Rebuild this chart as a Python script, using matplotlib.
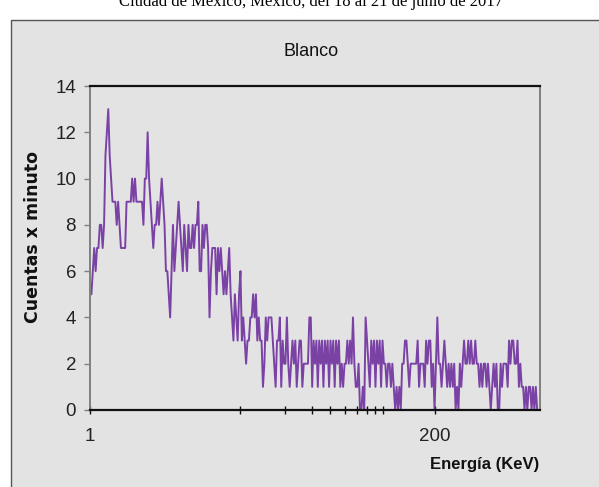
import matplotlib
matplotlib.use("Agg")
import matplotlib.pyplot as plt
from matplotlib.colors import LinearSegmentedColormap
from matplotlib.patches import Rectangle
import matplotlib.ticker as ticker
import numpy as np

# counts per minute, one value per channel (left -> right)
counts = [
    5, 5, 6, 7, 6, 7, 7, 8, 8, 7, 8, 11, 12, 13, 11, 10, 9, 9, 9, 8,
    9, 8, 7, 7, 7, 7, 9, 9, 9, 9, 10, 9, 10, 9, 9, 9, 9, 9, 8, 10,
    10, 12, 10, 9, 8, 7, 8, 8, 9, 8, 9, 10, 9, 8, 6, 6, 5, 4, 6, 8,
    6, 7, 8, 9, 8, 7, 6, 8, 7, 6, 8, 7, 7, 8, 7, 8, 8, 9, 6, 6,
    8, 7, 8, 8, 7, 4, 6, 7, 7, 7, 5, 7, 6, 7, 6, 5, 6, 5, 6, 7,
    5, 4, 3, 5, 4, 3, 5, 6, 3, 4, 3, 2, 3, 3, 4, 4, 5, 4, 5, 3,
    4, 3, 3, 1, 2, 4, 3, 4, 4, 4, 3, 2, 1, 3, 3, 4, 1, 3, 2, 2,
    4, 2, 1, 2, 3, 2, 3, 1, 2, 3, 3, 1, 2, 2, 2, 2, 4, 4, 1, 3,
    2, 3, 1, 3, 2, 3, 1, 3, 2, 3, 1, 3, 2, 3, 1, 3, 2, 3, 1, 2,
    1, 2, 2, 3, 2, 3, 2, 4, 2, 1, 1, 2, 0, 0, 1, 0, 4, 3, 2, 1,
    3, 2, 3, 1, 3, 2, 3, 1, 3, 2, 2, 1, 2, 2, 1, 2, 1, 0, 1, 0,
    1, 0, 2, 2, 3, 3, 2, 1, 2, 2, 2, 2, 2, 3, 1, 2, 2, 2, 1, 3,
    2, 3, 3, 1, 2, 0, 2, 4, 2, 2, 1, 2, 3, 2, 1, 2, 1, 2, 1, 2,
    0, 1, 0, 2, 1, 2, 3, 2, 2, 3, 2, 3, 2, 2, 3, 2, 2, 1, 2, 1,
    2, 2, 1, 2, 1, 0, 1, 2, 1, 2, 0, 0, 2, 1, 2, 2, 2, 1, 3, 2,
    3, 3, 2, 2, 3, 1, 2, 1, 1, 0, 1, 0, 1, 1, 0, 1, 0, 1, 0, 0,
    0,
]
# channel energies (KeV) of the spectrometer, log spaced from 1 to 1000
energias = np.geomspace(1, 1000, len(counts))

xticks = [1, 10, 20, 30, 40, 50, 60, 70, 80, 90, 200]
xticklabels = ["1", "", "", "", "", "", "", "", "", "", "200"]
yticks = [0, 2, 4, 6, 8, 10, 12, 14]

W, H = 599, 487
fig = plt.figure(figsize=(W / 100, H / 100), dpi=100)
fig.patch.set_facecolor("white")

# outer grey chart box
fig.patches.append(Rectangle((11 / W, -0.1), 1.2, 0.1 + (H - 20) / H,
                             transform=fig.transFigure, facecolor="#e3e3e3",
                             edgecolor="#555555", lw=1.0, zorder=0))

# cut off header line from the page
fig.text(311 / W, 1 - 6 / H, "Ciudad de México, México, del 18 al 21 de junio de 2017",
         ha="center", va="baseline", fontsize=12, family="Liberation Serif", color="black")

pos = [90 / W, 77 / H, 450 / W, 324 / H]

# gradient plot area
bg = fig.add_axes(pos, zorder=0)
cmap = LinearSegmentedColormap.from_list("g", ["#ffffff", "#fafafa", "#d8d8d8"])
bg.imshow(np.linspace(0, 1, 256).reshape(-1, 1)[::-1], cmap=cmap, aspect="auto",
          extent=[0, 1, 0, 1])
bg.axis("off")

ax = fig.add_axes(pos, zorder=1)
ax.patch.set_alpha(0)
ax.plot(energias, counts, color="#7030a0", lw=1.4, alpha=0.9)

ax.set_xscale("log")
ax.set_xlim(1, 1000)
ax.set_ylim(0, 14)
ax.xaxis.set_major_locator(ticker.FixedLocator(xticks))
ax.xaxis.set_major_formatter(ticker.FixedFormatter(xticklabels))
ax.xaxis.set_minor_locator(ticker.NullLocator())
ax.set_yticks(yticks)

for s in ["top", "bottom"]:
    ax.spines[s].set_color("#111111")
    ax.spines[s].set_linewidth(1.6)
for s in ["left", "right"]:
    ax.spines[s].set_color("#808080")
    ax.spines[s].set_linewidth(1.4)

ax.tick_params(axis="x", direction="inout", length=6, width=1, color="#111111",
               pad=10, labelsize=13.5, labelcolor="#222222")
ax.tick_params(axis="y", direction="out", length=4, width=1, color="#808080",
               pad=6, labelsize=13.5, labelcolor="#222222")
for lab in ax.get_xticklabels() + ax.get_yticklabels():
    lab.set_family("Liberation Sans")

fig.text(311 / W, 1 - 51 / H, "Blanco", ha="center", va="center",
         fontsize=13, family="Liberation Sans", color="#111111")
fig.text(33 / W, 1 - 237 / H, "Cuentas x minuto", rotation=90, ha="center", va="center",
         fontsize=12.5, fontweight="bold", family="DejaVu Sans", color="#111111")
fig.text(485 / W, 1 - 465 / H, "Energía (KeV)", ha="center", va="center",
         fontsize=12, fontweight="bold", family="Liberation Sans", color="#111111")

fig.savefig("out.png", dpi=100)
